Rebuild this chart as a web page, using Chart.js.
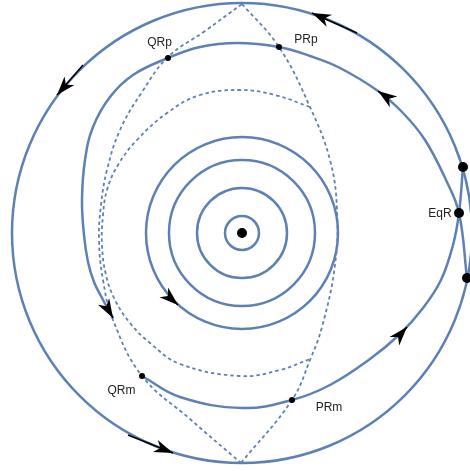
<!DOCTYPE html>
<html>
<head>
<meta charset="utf-8">
<script src="https://cdn.jsdelivr.net/npm/chart.js@4.4.1/dist/chart.umd.min.js"></script>
<style>
  html, body { margin: 0; padding: 0; background: #fff; }
  #wrap { width: 470px; height: 471px; }
</style>
</head>
<body>
<div id="wrap"><canvas id="orbits"></canvas></div>
<script>
// circular orbits round the central body
const ring1 = [[1.7, 0], [1.2, 1.2], [0, 1.7], [-1.2, 1.2], [-1.7, 0], [-1.2, -1.2], [0, -1.7], [1.2, -1.2]]
const ring2 = [[4.5, 0], [3.18, 3.18], [0, 4.5], [-3.18, 3.18], [-4.5, 0], [-3.18, -3.18], [0, -4.5], [3.18, -3.18]]
const ring3 = [[7.3, 0], [5.16, 5.16], [0, 7.3], [-5.16, 5.16], [-7.3, 0], [-5.16, -5.16], [0, -7.3], [5.16, -5.16]]
const ring4 = [[9.6, 0], [6.79, 6.79], [0, 9.6], [-6.79, 6.79], [-9.6, 0], [-6.79, -6.79], [0, -9.6], [6.79, -6.79]]
const outerOrbit = [[23, 0], [16.26, 16.26], [0, 23], [-16.26, 16.26], [-23, 0], [-16.26, -16.26], [0, -23], [16.26, -16.26]]

// the two branches through EqR
const upperBranch = [[22.5, -4.5], [21.7, 2.0], [20.4, 5.3], [18.3, 9.3], [16.1, 12.0], [13.6, 14.2], [9.8, 16.5],
  [6.8, 17.7], [3.7, 18.6], [-0.5, 19.0], [-4.2, 18.6], [-7.4, 17.5], [-10.9, 15.8], [-13.2, 13.6],
  [-14.9, 10.6], [-15.7, 7.3], [-16.0, 3.3], [-15.8, -0.2], [-15.4, -2.9], [-14.8, -4.9], [-14.0, -6.5],
  [-12.9, -8.5]]
const lowerBranch = [[22.1, 6.6], [21.7, 2.0], [21.1, -1.2], [19.9, -4.7], [18.1, -7.5], [15.8, -10.1],
  [12.8, -12.6], [8.8, -15.2], [5.0, -16.7], [0.1, -17.5], [-6.2, -16.4], [-10.0, -14.3]]

// dashed boundaries
const leftEdge = [[0, 22.9], [-3.7, 20.2], [-7.4, 17.6], [-10.0, 14.1], [-12.2, 10.3], [-13.5, 6.3], [-14.1, 2.8],
  [-14.3, -0.7], [-13.9, -4.7], [-12.9, -8.7], [-10.0, -14.3], [-5.2, -18.6], [-0.1, -23.0]]
const rightEdge = [[0, 22.9], [3.7, 18.6], [6.8, 12.6], [8.8, 7.3], [9.5, 2.3], [9.3, -3.2], [8.0, -9.4],
  [6.8, -12.7], [5.0, -16.7], [-0.1, -23.0]]
const innerEdge = [[6.8, 12.6], [3.3, 13.8], [-0.2, 14.3], [-4.2, 13.8], [-7.5, 12.0], [-10.5, 9.3], [-12.4, 6.8],
  [-13.5, 4.3], [-13.9, 1.8], [-14.0, -1.2], [-13.6, -4.2], [-12.7, -6.7], [-11.2, -9.0], [-9.2, -11.0],
  [-6.2, -13.1], [-0.2, -14.3], [3.8, -13.7], [6.8, -12.6]]

// marked points
const bigDots = [[0, 0], [21.7, 2.0], [22.1, 6.6], [22.5, -4.5]]
const smallDots = [[-7.4, 17.5], [3.7, 18.6], [-10.0, -14.3], [5.0, -16.7]]
const labelTexts = ['QRp', 'PRp', 'QRm', 'PRm', 'EqR']
const labelPoints = [[-8.25, 18.7], [6.4, 19.0], [-12.05, -16.1], [8.7, -17.8], [19.8, 1.6]]

// arrows: tail -> tip
const arrowTails = [[11.5, 20.0], [-15.9, 16.8], [-11.4, -20.2], [14.6, 13.5], [-13.5, -7.45], [-7.3, -6.4], [15.7, -10.3]]
const arrowTips = [[7.0, 22.0], [-18.5, 13.8], [-6.9, -22.0], [13.6, 14.2], [-12.9, -8.5], [-6.4, -7.2], [16.5, -9.4]]

const blue = 'rgb(94, 129, 181)'

const solid = (data, closed) => ({
    data: data,
    closed: closed,
    borderColor: blue,
    borderWidth: 2.5,
    pointRadius: 0,
    tension: closed ? 0.375 : 0.4
})
const dashed = (data) => ({
    data: data,
    borderColor: blue,
    borderWidth: 1.8,
    borderDash: [3.5, 3],
    pointRadius: 0,
    tension: 0.4
})
const dots = (data, r) => ({
    data: data,
    showLine: false,
    pointRadius: r,
    pointBorderWidth: 0,
    pointBackgroundColor: '#000',
    pointBorderColor: '#000'
})

// make orbit lines close smoothly on themselves
const loopPlugin = {
    id: 'closedLoops',
    afterDatasetUpdate(chart, args) {
        if (!chart.data.datasets[args.index].closed) return
        const line = args.meta.dataset
        line._loop = true
        line._fullLoop = true
        line._pointsUpdated = false
        delete line._segments
        delete line._path
    }
}

const overlayPlugin = {
    id: 'arrowsAndLabels',
    afterDatasetsDraw(chart) {
        const { ctx, scales: { x, y } } = chart
        ctx.save()
        ctx.fillStyle = '#000'
        ctx.strokeStyle = '#000'
        ctx.lineWidth = 1.5
        arrowTails.forEach((tail, i) => {
            const tip = arrowTips[i]
            const x0 = x.getPixelForValue(tail[0]), y0 = y.getPixelForValue(tail[1])
            const x1 = x.getPixelForValue(tip[0]), y1 = y.getPixelForValue(tip[1])
            ctx.beginPath()
            ctx.moveTo(x0, y0)
            ctx.lineTo(x1, y1)
            ctx.stroke()
            ctx.save()
            ctx.translate(x1, y1)
            ctx.rotate(Math.atan2(y1 - y0, x1 - x0))
            ctx.beginPath()
            ctx.moveTo(0, 0)
            ctx.lineTo(-19, 6.5)
            ctx.lineTo(-13.5, 0)
            ctx.lineTo(-19, -6.5)
            ctx.closePath()
            ctx.fill()
            ctx.restore()
        })
        ctx.fillStyle = '#222'
        ctx.font = '12px "Liberation Sans", Arial, sans-serif'
        ctx.textAlign = 'center'
        ctx.textBaseline = 'alphabetic'
        labelTexts.forEach((text, i) => {
            ctx.fillText(text, x.getPixelForValue(labelPoints[i][0]), y.getPixelForValue(labelPoints[i][1]))
        })
        ctx.restore()
    }
}

new Chart(document.getElementById('orbits'), {
    type: 'line',
    data: {
        datasets: [
            dots(bigDots, 5),
            dots(smallDots, 3),
            solid(upperBranch, false),
            solid(lowerBranch, false),
            solid(outerOrbit, true),
            solid(ring1, true),
            solid(ring2, true),
            solid(ring3, true),
            solid(ring4, true),
            dashed(leftEdge),
            dashed(rightEdge),
            dashed(innerEdge)
        ]
    },
    options: {
        responsive: true,
        maintainAspectRatio: false,
        animation: false,
        events: [],
        layout: { padding: 0, autoPadding: false },
        elements: { line: { capBezierPoints: false, fill: false } },
        scales: {
            x: { type: 'linear', min: -24.2, max: 22.8, display: false },
            y: { type: 'linear', min: -23.8, max: 23.3, display: false }
        },
        plugins: {
            legend: { display: false },
            tooltip: { enabled: false }
        }
    },
    plugins: [loopPlugin, overlayPlugin]
})
</script>
</body>
</html>
